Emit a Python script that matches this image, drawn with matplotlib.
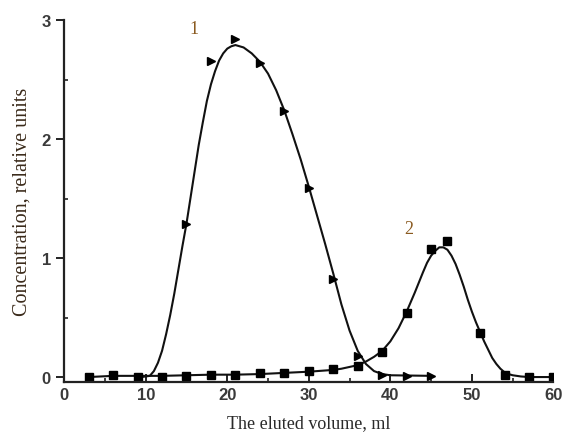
import numpy as np
import matplotlib
matplotlib.use('Agg')
from matplotlib import pyplot as plt
from matplotlib.ticker import MultipleLocator

# measured points, curve 1 (triangles)
x1 = [15, 18, 21, 24, 27, 30, 33, 36, 39, 42, 45]
y1 = [1.29, 2.66, 2.84, 2.64, 2.24, 1.59, 0.82, 0.18, 0.02, 0.01, 0.01]

# measured points, curve 2 (squares)
x2 = [3, 6, 9, 12, 15, 18, 21, 24, 27, 30, 33, 36, 39, 42, 45, 47, 51, 54, 57, 60]
y2 = [0.0, 0.02, 0.0, 0.0, 0.01, 0.02, 0.02, 0.03, 0.03, 0.05, 0.07, 0.09,
      0.21, 0.54, 1.08, 1.14, 0.37, 0.02, 0.0, 0.0]

# fitted lines
fx1 = [9.5, 10.5, 11, 11.5, 12, 12.5, 13, 13.5, 14, 14.5, 15, 15.5, 16, 16.5,
       17, 17.5, 18, 18.5, 19, 19.5, 20, 20.5, 21, 21.5, 22, 23, 24, 25, 26,
       27, 28, 29, 30, 31, 32, 33, 34, 35, 36, 37, 38, 39, 40, 45]
fy1 = [0.0, 0.01, 0.05, 0.12, 0.22, 0.36, 0.52, 0.70, 0.90, 1.10, 1.29, 1.51,
       1.73, 1.95, 2.14, 2.32, 2.46, 2.57, 2.66, 2.72, 2.76, 2.78, 2.79, 2.78,
       2.77, 2.72, 2.65, 2.55, 2.41, 2.24, 2.04, 1.83, 1.60, 1.36, 1.12, 0.87,
       0.61, 0.39, 0.22, 0.11, 0.05, 0.025, 0.015, 0.01]

fx2 = [3, 6, 9, 12, 15, 18, 21, 24, 27, 30, 33, 34, 35, 36, 37, 38, 39, 40,
       41, 42, 43, 44, 44.5, 45, 45.5, 46, 46.5, 47, 47.5, 48, 48.5, 49, 49.5,
       50, 50.5, 51, 51.5, 52, 52.5, 53, 53.5, 54, 54.5, 55, 56, 57, 60]
fy2 = [0.0, 0.01, 0.01, 0.01, 0.015, 0.02, 0.02, 0.025, 0.035, 0.045, 0.06,
       0.07, 0.085, 0.10, 0.13, 0.17, 0.22, 0.30, 0.41, 0.55, 0.71, 0.88, 0.96,
       1.02, 1.06, 1.09, 1.09, 1.07, 1.02, 0.95, 0.86, 0.76, 0.65, 0.55, 0.46,
       0.38, 0.30, 0.23, 0.16, 0.11, 0.07, 0.04, 0.025, 0.015, 0.005, 0.0, 0.0]

fig = plt.figure(figsize=(5.63, 4.39), dpi=100)
ax = fig.add_axes([0.114, 0.128, 0.869, 0.824])

ax.plot(fx1, fy1, color='#111111', lw=1.5, solid_joinstyle='round')
ax.plot(fx2, fy2, color='#111111', lw=1.5, solid_joinstyle='round')
ax.plot(x1, y1, '>', color='black', ms=6, ls='none')
ax.plot(x2, y2, 's', color='black', ms=5.5, ls='none')

ax.set_xlim(0, 60)
ax.set_ylim(-0.04, 3.0)
for s in ['top', 'right']:
    ax.spines[s].set_visible(False)
for s in ['left', 'bottom']:
    ax.spines[s].set_linewidth(1.6)
    ax.spines[s].set_color('#222222')

ax.xaxis.set_major_locator(MultipleLocator(10))
ax.xaxis.set_minor_locator(MultipleLocator(5))
ax.yaxis.set_major_locator(MultipleLocator(1))
ax.yaxis.set_minor_locator(MultipleLocator(0.5))
ax.tick_params(axis='x', which='major', direction='in', length=6, width=1.4, colors='#222222')
ax.tick_params(axis='x', which='minor', direction='in', length=3, width=1.2, colors='#222222')
ax.tick_params(axis='y', which='major', direction='out', length=6, width=1.4, colors='#222222')
ax.tick_params(axis='y', which='minor', direction='in', length=3, width=1.2, colors='#222222')
for lab in ax.get_xticklabels() + ax.get_yticklabels():
    lab.set_family('Liberation Sans')
    lab.set_fontweight('bold')
    lab.set_fontsize(12)
    lab.set_color('#3a3a3a')

ax.set_xlabel('The eluted volume, ml', family='Liberation Serif', fontsize=13,
              color='#2a2a2a', labelpad=9)
ax.set_ylabel('Concentration, relative units', family='Liberation Serif', fontsize=14.5,
              color='#3a2a1a', labelpad=7)

ax.text(15.9, 2.93, '1', family='Liberation Serif', fontsize=13, color='#8a5a20',
        ha='center', va='center')
ax.text(42.3, 1.25, '2', family='Liberation Serif', fontsize=13, color='#8a5a20',
        ha='center', va='center')

plt.savefig('out.png', dpi=100)
plt.close()
